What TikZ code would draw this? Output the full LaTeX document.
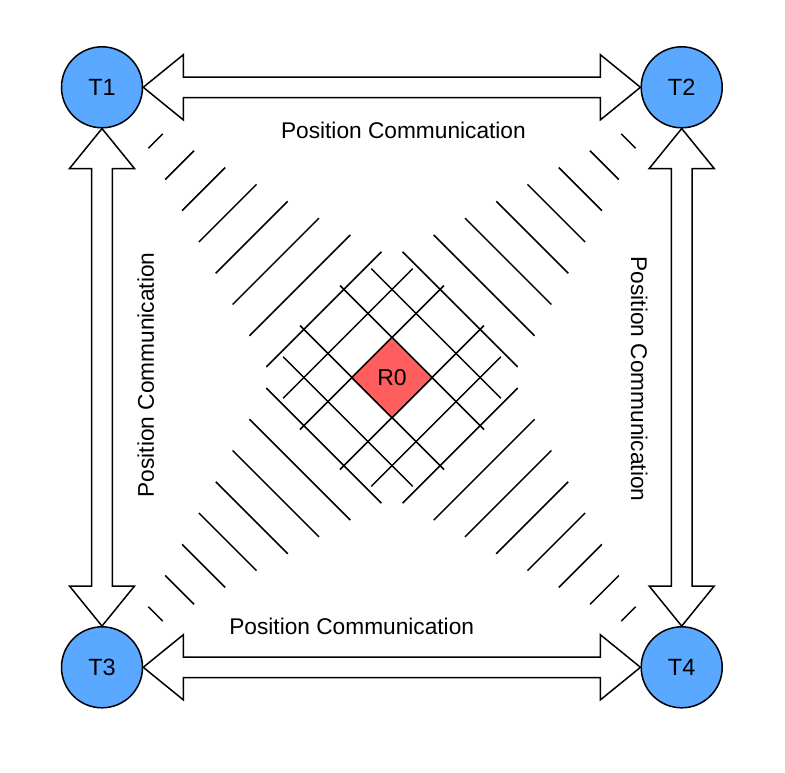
\documentclass[tikz,border=0pt]{standalone}
\usepackage{fontspec}
\setmainfont{Liberation Sans}
\usetikzlibrary{shapes.geometric,calc}
\definecolor{tblue}{RGB}{90,168,255}
\definecolor{rred}{RGB}{255,94,94}
\tikzset{
  tnode/.style={circle, draw=black, line width=1.5pt, fill=tblue, minimum size=81pt, inner sep=0pt, font=\fontsize{23.5}{28}\selectfont},
  rnode/.style={diamond, draw=black, line width=1.5pt, fill=rred, minimum width=81pt, minimum height=81pt, inner sep=0pt, font=\fontsize{23}{28}\selectfont},
  lbl/.style={inner sep=0pt, font=\fontsize{22.7}{27}\selectfont},
  blk/.style={draw=black, fill=white, line width=1.5pt, line join=miter},
  hatch/.style={draw=black, line width=1.5pt}
}
\begin{document}
\begin{tikzpicture}[x=1pt,y=-1pt]
\useasboundingbox (0,0) rectangle (785,772);
% nodes
\node[tnode] (T1) at (102,87.3) {T1};
\node[tnode] (T2) at (681.7,87.3) {T2};
\node[tnode] (T3) at (102,667.3) {T3};
\node[tnode] (T4) at (681.7,667.3) {T4};
% hatch lines
\foreach \k in {1,...,10}{
  \pgfmathsetmacro\c{260.5-24.05*\k}
  \pgfmathsetmacro\h{7.2*\k}
  \draw[hatch] (392-\c-\h,377.5-\c+\h) -- (392-\c+\h,377.5-\c-\h);
  \draw[hatch] (392+\c-\h,377.5+\c+\h) -- (392+\c+\h,377.5+\c-\h);
  \draw[hatch] (392+\c-\h,377.5-\c-\h) -- (392+\c+\h,377.5-\c+\h);
  \draw[hatch] (392-\c-\h,377.5+\c-\h) -- (392-\c+\h,377.5+\c+\h);
}
\node[rnode] (R0) at (392,377.5) {R0};
% block arrows
% top: T1 <-> T2
\draw[blk] (T1.east) -- ++(40,-32.5) -- ++(0,22.2) -- ($(T2.west)+(-40,-10.3)$) -- ++(0,-22.2) -- (T2.west)
  -- ++(-40,32.5) -- ++(0,-22.2) -- ($(T1.east)+(40,10.3)$) -- ++(0,22.2) -- cycle;
% bottom: T3 <-> T4
\draw[blk] (T3.east) -- ++(40,-32.5) -- ++(0,22.2) -- ($(T4.west)+(-40,-10.3)$) -- ++(0,-22.2) -- (T4.west)
  -- ++(-40,32.5) -- ++(0,-22.2) -- ($(T3.east)+(40,10.3)$) -- ++(0,22.2) -- cycle;
% left: T1 <-> T3
\draw[blk] (T1.south) -- ++(-32.5,40) -- ++(22.2,0) -- ($(T3.north)+(-10.3,-40)$) -- ++(-22.2,0) -- (T3.north)
  -- ++(32.5,-40) -- ++(-22.2,0) -- ($(T1.south)+(10.3,40)$) -- ++(22.2,0) -- cycle;
% right: T2 <-> T4
\draw[blk] (T2.south) -- ++(-32.5,40) -- ++(22.2,0) -- ($(T4.north)+(-10.3,-40)$) -- ++(-22.2,0) -- (T4.north)
  -- ++(32.5,-40) -- ++(-22.2,0) -- ($(T2.south)+(10.3,40)$) -- ++(22.2,0) -- cycle;
% labels
\node[lbl] (Ltop) at (403.4,130.8) {Position Communication};
\node[lbl] (Lbot) at (351.7,626.7) {Position Communication};
\node[lbl, rotate=90] (Lleft) at (145.8,375) {Position Communication};
\node[lbl, rotate=-90] (Lright) at (639.2,379) {Position Communication};
\end{tikzpicture}
\end{document}
